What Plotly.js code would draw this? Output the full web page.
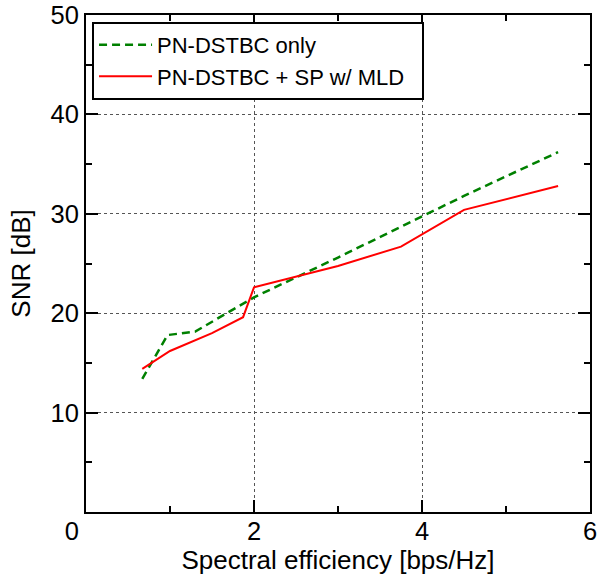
<!DOCTYPE html>
<html>
<head>
<meta charset="utf-8">
<script src="https://cdn.plot.ly/plotly-3.0.1.min.js"></script>
<style>html,body{margin:0;padding:0;background:#fff;}#chart{width:597px;height:580px;}</style>
</head>
<body>
<div id="chart"></div>
<script>
const seriesNames = ["PN-DSTBC only", "PN-DSTBC + SP w/ MLD\u2007"];
const xOnly = [0.67, 0.97, 1.3, 2.0, 3.0, 3.75, 4.5, 5.62];
const yOnly = [13.4, 17.8, 18.15, 21.6, 25.6, 28.7, 31.8, 36.2];
const xSP = [0.67, 1.0, 1.5, 1.87, 2.0, 3.0, 3.75, 4.5, 5.62];
const ySP = [14.4, 16.2, 18.0, 19.6, 22.6, 24.75, 26.7, 30.4, 32.8];
const xTicks = [0, 2, 4, 6];
const xTickText = ["0\u2007\u2007", "2", "4", "6"];
const yTicks = [10, 20, 30, 40, 50];
const xTitle = "Spectral efficiency [bps/Hz]";
const yTitle = "SNR [dB]";

const font = "Liberation Sans, Arial, Helvetica, sans-serif";

const traces = [
  {x: xOnly, y: yOnly, name: seriesNames[0], mode: "lines", type: "scatter",
   line: {color: "#008000", width: 2.5, dash: "8px,5px"}},
  {x: xSP, y: ySP, name: seriesNames[1], mode: "lines", type: "scatter",
   line: {color: "#ff0000", width: 2}}
];

const axisCommon = {
  showline: true, linecolor: "#000", linewidth: 2, mirror: "ticks",
  ticks: "inside", ticklen: 12, tickwidth: 2, tickcolor: "#000",
  showgrid: true, gridcolor: "#555", gridwidth: 1, griddash: "3px,3px",
  zeroline: false, ticklabeloverflow: "allow",
  tickfont: {family: font, size: 25.5, color: "#000"}
};

const layout = {
  width: 597, height: 580,
  margin: {l: 86, r: 7, t: 15, b: 68},
  paper_bgcolor: "#fff", plot_bgcolor: "#fff",
  showlegend: true,
  font: {family: font, color: "#000"},
  xaxis: Object.assign({}, axisCommon, {
    range: [0, 6], tickvals: xTicks, ticktext: xTickText,
    ticklabelstandoff: -5,
    minor: {dtick: 1, tick0: 0, ticks: "inside", ticklen: 6, tickwidth: 2, tickcolor: "#000", showgrid: false},
    title: {text: xTitle, font: {family: font, size: 26, color: "#000"}, standoff: 4}
  }),
  yaxis: Object.assign({}, axisCommon, {
    range: [0, 50], tickvals: yTicks, ticktext: yTicks.map(String),
    minor: {dtick: 5, tick0: 0, ticks: "inside", ticklen: 6, tickwidth: 2, tickcolor: "#000", showgrid: false},
    title: {text: yTitle, font: {family: font, size: 26, color: "#000"}, standoff: 12}
  }),
  legend: {
    x: 0.012, y: 0.986, xanchor: "left", yanchor: "top",
    bgcolor: "#fff", bordercolor: "#000", borderwidth: 2,
    font: {family: font, size: 22, color: "#000"},
    itemwidth: 53, tracegroupgap: 0
  }
};

Plotly.newPlot("chart", traces, layout, {displayModeBar: false, staticPlot: true});
</script>
</body>
</html>
